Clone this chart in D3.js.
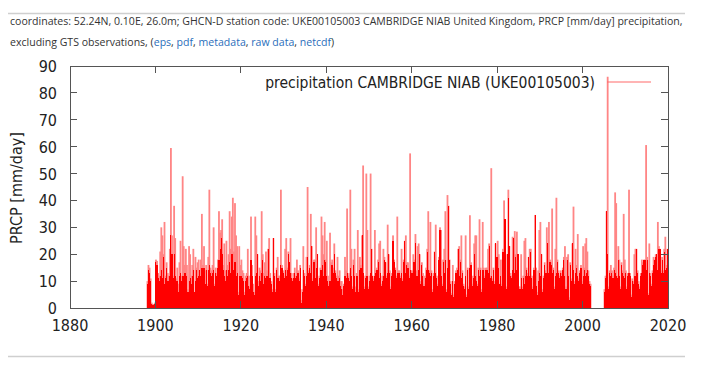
<!DOCTYPE html>
<html><head><meta charset="utf-8">
<script src="https://cdn.jsdelivr.net/npm/d3@7"></script>
<style>
html,body{margin:0;padding:0;background:#fff;}
svg{display:block;}
</style></head>
<body>
<svg id="chart" width="705" height="365"></svg>
<script>
// ---------- DATA ----------
const startYear = 1898;          // first year of quarterly values
const stepYears = 0.25;          // one value per quarter
const xTicks = [1880, 1900, 1920, 1940, 1960, 1980, 2000, 2020];
const yTicks = [0, 10, 20, 30, 40, 50, 60, 70, 80, 90];
const seriesName = "precipitation CAMBRIDGE NIAB (UKE00105003)";
const yTitle = "PRCP [mm/day]";
// quarterly maximum daily precipitation (mm/day), 1898..2019, null = no data
const maxQ = [
10,16,15,11, 2,1.5,1.5,2, 18,17.5,13,12, 21,30,27,20, 32,12,17,13, 12,22,59.5,27, 12,38,26,11, 15,9,17,25, 12,49,23,16, 22,16,7,23,
20,12,16,22, 6,19,15,17, 18,14,18,35, 16,23,14,16, 9,19,44,15, 14,16,30,9, 15,13,18,36, 28,29,33,16, 24,14,25,16, 20,36,22,34,
41,21,39,27, 23,6,23,16, 18,14,13,6, 12,13,22,12, 8,34,16,9, 6,34,27,20, 10,15,14,36, 20,13,17,21, 14,22,26,13, 10,7,26,13,
7,15,19,12, 12,44,16,14, 12,22,26,15, 21,17,26,13, 11,13,15,12, 18,14,11,16, 3,7,23,13, 9,19,45,14, 16,35,23,11, 18,18,30,20,
9,12,15,34, 27,20,32,18, 25,12,9,28, 17,18,15,24, 14,12,19,12, 14,10,10,7, 9,19,14,37, 12,13,44,22, 8,18,22,8, 13,29,7,19,
16,27,53,8, 12,50,29,8, 12,50,22,12, 11,29,14,15, 18,24,25,9, 12,22,19,17, 12,31,20,14, 8,13,27,18, 15,12,34,14, 14,12,22,11,
18,25,27,17, 17,12,57.5,14, 14,20,18,27.5, 14,23,24,20, 10,17,13,9, 12,15,22,36, 14,32,14,7, 13,21,31,12, 9,19,30,29, 9,18,22,36,
7,42,38,18, 10,5.5,16,5, 10,14,15,22, 23,18,27,14, 9,8,27,5, 15,8,34.5,17, 9,12,24,27, 27,9,15,33, 15,7,32,15, 12,15,15,22,
24,12,52,11, 15,10,24,19, 25,20,9,18, 9,22,40,33, 8,20,44,23, 13,12,26.5,26, 28.6,20,28.4,20, 8,8,20,8, 12,25,26,15, 13,19,22,22,
12,8,15,34.6, 15,6,14,29, 32,20,7,12, 17,14,30,24, 32,18,17,37, 15,8,22,41, 18,14,12,14, 13,15,19,23, 8,19,20,4, 17,11,24,37.7,
10,22,16,27.5, 11,14,16,10, 23,15,24,26, 21,14,10,9, null,null,null,null, null,null,null,null, null,null,null,null, 7,12,36,86, 8,14,16,14, 12,15,43,39,
12,23,18,8, 17,14,35,18, 14,8,13,44, 13,5,11,10, 20,22,22,14, 10,8,13,18, 17,18,18,60.6, 19,5.5,24,13, 9,14,19,18, 20,20,32,23,
22,14,19,14, 22,26.5,16,22
];
// quarterly "dense" level where daily impulses overlap (mm/day)
const solidQ = [
9,14,13,10, 1.5,1,1,1.5, 17,16,11,10, 12,14,11,19, 9,11,15,10, 10,12,27,20, 11,20,12,10, 10,6,12,13, 10,12,12,13, 13,12,6,10,
11,9,12,14, 6,10,14,11, 12,14,12,15, 15,15,9,14, 8,14,16,13, 12,13,14,8, 13,12,15,18, 22,26,20,14, 12,10,14,12, 14,17,13,20,
20,14,17,12, 13,5,12,12, 12,11,10,5, 10,11,12,8, 7,18,12,6, 5,12,13,20, 8,12,10,13, 18,9,12,11, 12,22,11,11, 9,6,26,12,
6,14,11,11, 10,16,15,13, 11,14,12,14, 20,17,13,11, 10,11,13,11, 12,13,10,15, 2,6,14,12, 8,12,19,13, 15,13,23,10, 17,11,15,20,
8,11,14,14, 16,12,18,17, 12,10,8,10, 16,16,13,20, 13,11,10,10, 11,8,7,5, 8,12,11,13, 11,10,15,12, 7,16,12,6, 12,12,6,14,
15,27,13,7, 11,12,12,7, 10,13,22,12, 10,12,13,14, 17,11,13,8, 10,12,18,17, 11,13,20,13, 7,12,25,17, 14,11,13,13, 13,11,13,10,
17,25,13,16, 15,11,14,13, 13,17,17,24, 12,12,14,20, 9,16,12,8, 11,14,21,14, 13,12,13,6, 12,21,13,11, 8,18,29,12, 8,17,13,18,
6,15,38,18, 9,5,10,4, 9,13,14,22, 12,17,11,13, 8,7,12,4, 14,7,15,16, 8,11,20,12, 10,8,14,12, 14,6,14,14, 11,14,14,13,
23,11,12,10, 14,9,24,19, 19,15,9,12, 8,21,33,33, 7,20,41,23, 12,11,14,26, 13,19,14,20, 7,7,11,7, 11,9,12,14, 12,19,12,21,
11,7,14,34.6, 8,5,10,13, 12,20,6,11, 16,13,13,24, 13,17,16,13, 14,7,12,13, 17,13,11,13, 12,14,18,12, 7,18,12,3, 16,10,24,14,
9,13,15,12, 10,13,15,9, 12,14,12,13, 14,12,9,8, null,null,null,null, null,null,null,null, null,null,null,null, 6,11,36,20, 7,13,12,13, 11,14,13,12,
11,18,12,7, 16,13,12,11, 13,7,12,13, 12,4,10,9, 12,12,22,13, 9,7,12,13, 16,18,18,14, 18,5,13,12, 8,13,16,18, 19,20,14,22,
22,13,18,13, 21,14,15,22
];

// ---------- LAYOUT ----------
const svg = d3.select("#chart");
const L = 70, R = 668, T = 66, B = 308;
const x = d3.scaleLinear().domain([1880, 2020]).range([L, R]);
const y = d3.scaleLinear().domain([0, 90]).range([B, T]);
const tickFont = "'DejaVu Sans Condensed','DejaVu Sans',sans-serif";
const headFont = "'Open Sans',sans-serif";

// header
svg.append("line").attr("x1", 8).attr("x2", 685).attr("y1", 13.5).attr("y2", 13.5)
  .attr("stroke", "#cfcfcf").attr("stroke-width", 1.5);
svg.append("line").attr("x1", 8).attr("x2", 685).attr("y1", 356.5).attr("y2", 356.5)
  .attr("stroke", "#cfcfcf").attr("stroke-width", 1.5);

const h1 = svg.append("text").attr("x", 10).attr("y", 25)
  .attr("font-family", headFont).attr("font-size", 12).attr("fill", "#333")
  .text("coordinates: 52.24N, 0.10E, 26.0m; GHCN-D station code: UKE00105003 CAMBRIDGE NIAB United Kingdom, PRCP [mm/day] precipitation,");
const w1 = h1.node().getComputedTextLength();
const fs = 12 * 673 / w1;
h1.attr("font-size", fs);
const h2 = svg.append("text").attr("x", 10).attr("y", 46)
  .attr("font-family", headFont).attr("font-size", fs).attr("fill", "#333");
const parts = [["excluding GTS observations, (", 0], ["eps", 1], [", ", 0], ["pdf", 1], [", ", 0],
  ["metadata", 1], [", ", 0], ["raw data", 1], [", ", 0], ["netcdf", 1], [")", 0]];
parts.forEach(p => h2.append("tspan").attr("fill", p[1] ? "#2a6ebb" : "#333").text(p[0]));

// data marks
const rows = maxQ.map((v, i) => ({t: startYear + i * stepYears, max: v, solid: solidQ[i]}))
  .filter(d => d.max !== null);
const qw = x(startYear + stepYears) - x(startYear);
svg.append("g").selectAll("rect").data(rows).join("rect")
  .attr("x", d => x(d.t + stepYears / 2) - 0.9).attr("width", 1.8)
  .attr("y", d => y(d.max)).attr("height", d => y(0) - y(d.max))
  .attr("fill", "#ff8585");
svg.append("g").attr("shape-rendering", "crispEdges").selectAll("rect").data(rows).join("rect")
  .attr("x", d => x(d.t)).attr("width", qw)
  .attr("y", d => y(d.solid)).attr("height", d => y(0) - y(d.solid))
  .attr("fill", "#ff0000");

// frame and ticks (gnuplot style, inward, mirrored)
const frame = svg.append("g").attr("stroke", "#555").attr("stroke-width", 1).attr("shape-rendering", "crispEdges");
frame.append("rect").attr("x", L).attr("y", T).attr("width", R - L).attr("height", B - T).attr("fill", "none");
const tl = 7;
xTicks.forEach(t => {
  frame.append("line").attr("x1", x(t)).attr("x2", x(t)).attr("y1", B).attr("y2", B - tl);
  frame.append("line").attr("x1", x(t)).attr("x2", x(t)).attr("y1", T).attr("y2", T + tl);
});
yTicks.forEach(t => {
  frame.append("line").attr("x1", L).attr("x2", L + tl).attr("y1", y(t)).attr("y2", y(t));
  frame.append("line").attr("x1", R).attr("x2", R - tl).attr("y1", y(t)).attr("y2", y(t));
});

// tick labels
svg.append("g").selectAll("text").data(xTicks).join("text")
  .attr("x", d => x(d)).attr("y", 331).attr("text-anchor", "middle")
  .attr("font-family", tickFont).attr("font-size", 16).attr("fill", "#222").text(d => d);
svg.append("g").selectAll("text").data(yTicks).join("text")
  .attr("x", 57).attr("y", d => y(d) + 6).attr("text-anchor", "end")
  .attr("font-family", tickFont).attr("font-size", 16).attr("fill", "#222").text(d => d);

// y title
svg.append("text").attr("transform", "translate(22,188) rotate(-90)").attr("text-anchor", "middle")
  .attr("font-family", tickFont).attr("font-size", 16).attr("fill", "#222").text(yTitle);

// legend
const lg = svg.append("text").attr("x", 595).attr("y", 88).attr("text-anchor", "end")
  .attr("font-family", tickFont).attr("font-size", 16).attr("fill", "#222").text(seriesName);
const lw = lg.node().getComputedTextLength();
lg.attr("font-size", 16 * 330 / lw);
svg.append("line").attr("x1", 607).attr("x2", 651).attr("y1", 82).attr("y2", 82)
  .attr("stroke", "#ff6a6a").attr("stroke-width", 1.2);
</script>
</body></html>
